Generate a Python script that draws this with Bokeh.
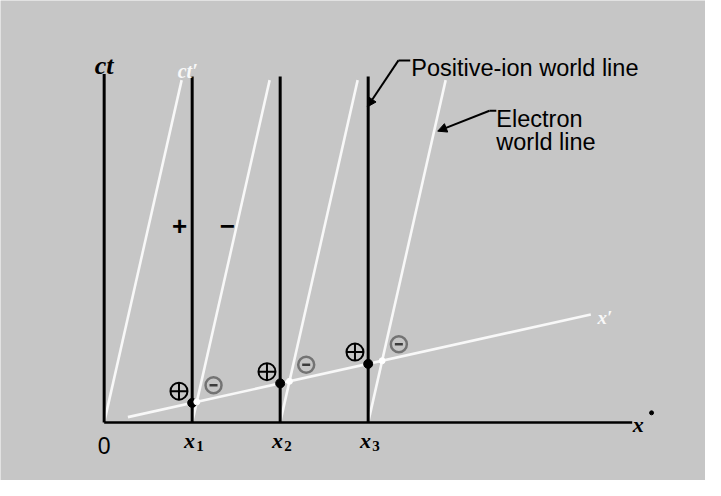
from bokeh.plotting import figure
from bokeh.models import Range1d, Arrow, NormalHead
from bokeh.core.properties import value
from bokeh.embed import file_html
from bokeh.resources import INLINE

# ---- data (units: ion spacing = 1, ct in same units) ----
ion_x = [1, 2, 3]                 # positive-ion world lines at x1, x2, x3
ion_top = 3.97                    # top of ion world lines (ct)
electron_x0 = [0, 1, 2, 3]        # electron world lines start (first one is ct' axis)
electron_top = 3.93               # top of electron world lines (ct)
beta = 0.224                      # slope of the moving frame
ct_axis_top = 4.0
x_axis_end = 6.0
xprime_start = 0.27
xprime_end = 5.53
ion_labels = ["1", "2", "3"]

BG = "#c6c6c6"
WHITE = "#f8f8f8"

W, H = 705, 480
X_RANGE = (-1.178, 6.833)
Y_RANGE = (-0.667, 4.844)

p = figure(width=W, height=H, output_backend="svg", toolbar_location=None,
           x_axis_type=None, y_axis_type=None, min_border=0,
           x_range=Range1d(*X_RANGE), y_range=Range1d(*Y_RANGE))
p.background_fill_color = BG
p.border_fill_color = BG
p.outline_line_color = None
p.grid.visible = False

# ---- white electron world lines (parallel to ct') ----
ex0 = list(electron_x0)
ex1 = [e + beta * electron_top for e in electron_x0]
p.segment(x0=ex0, y0=[0] * len(ex0), x1=ex1, y1=[electron_top] * len(ex0),
          line_color=WHITE, line_width=2.6)

# ---- x' axis ----
p.line(x=[xprime_start, xprime_end], y=[beta * xprime_start, beta * xprime_end],
       line_color=WHITE, line_width=2.6)

# ---- axes ----
p.line(x=[0, 0], y=[0, ct_axis_top], line_color="black", line_width=3)
p.line(x=[0, x_axis_end], y=[0, 0], line_color="black", line_width=2.5)

# ---- ion world lines ----
p.segment(x0=ion_x, y0=[0] * 3, x1=ion_x, y1=[ion_top] * 3,
          line_color="black", line_width=3)

# ions on x' (black dots)
ion_y_prime = [beta * x for x in ion_x]
p.scatter(x=ion_x, y=ion_y_prime, size=9, color="black")

# electrons on x' (bright spots)
el_ct = [beta * x / (1 - beta ** 2) for x in ion_x]
el_x = [x + beta * c for x, c in zip(ion_x, el_ct)]
p.scatter(x=el_x, y=el_ct, size=6, color="white")

# ⊕ and ⊖ symbols
p.scatter(x=[x - 0.15 for x in ion_x], y=[y + 0.135 for y in ion_y_prime],
          marker="circle_cross", size=17, line_color="black", fill_color=None, line_width=2)
p.scatter(x=[x + 0.19 for x in el_x], y=[y + 0.19 for y in el_ct],
          marker="circle", size=16, line_color="#737373", fill_color=None, line_width=2.5)
p.scatter(x=[x + 0.19 for x in el_x], y=[y + 0.19 for y in el_ct],
          marker="dash", size=8, line_color="#3c3c3c", line_width=2.5)

serif = value("Liberation Serif")
sans = value("Liberation Sans")

# axis labels
p.text(x=[0], y=[4.1], text=["ct"], text_font=serif, text_font_style="bold italic",
       text_font_size="26px", text_align="center", text_baseline="alphabetic", text_color="black")
p.text(x=[0.95], y=[4.04], text=["ct′"], text_font=serif, text_font_style="bold italic",
       text_font_size="20px", text_align="center", text_baseline="alphabetic", text_color=WHITE)
p.text(x=[0], y=[-0.267], text=["0"], text_font=sans,
       text_font_size="23px", text_align="center", text_baseline="alphabetic", text_color="black")
p.text(x=[6.07], y=[-0.02], text=["x"], text_font=serif, text_font_style="bold italic",
       text_font_size="22px", text_align="center", text_baseline="alphabetic", text_color="black")
p.scatter(x=[6.22], y=[0.11], size=4, color="black")
p.text(x=[5.69], y=[1.21], text=["x′"], text_font=serif, text_font_style="bold italic",
       text_font_size="19px", text_align="center", text_baseline="alphabetic", text_color=WHITE)

# x1, x2, x3 labels
p.text(x=[x - 0.03 for x in ion_x], y=[-0.21] * 3, text=["x"] * 3, text_font=serif,
       text_font_style="bold italic", text_font_size="22px", text_align="center",
       text_baseline="alphabetic", text_color="black")
p.text(x=[x + 0.09 for x in ion_x], y=[-0.27] * 3, text=ion_labels, text_font=serif,
       text_font_style="bold", text_font_size="15px", text_align="center",
       text_baseline="alphabetic", text_color="black")

# + and - charge signs
p.text(x=[0.856, 1.40], y=[2.25, 2.25], text=["+", "−"], text_font=sans,
       text_font_style="bold", text_font_size="26px", text_align="center",
       text_baseline="alphabetic", text_color="black")

# annotations
p.text(x=[3.489], y=[4.067], text=["Positive-ion world line"], text_font=sans,
       text_font_size="23.5px", text_align="left", text_baseline="alphabetic", text_color="black")
p.text(x=[4.456, 4.456], y=[3.489, 3.222], text=["Electron", "world line"], text_font=sans,
       text_font_size="23.5px", text_align="left", text_baseline="alphabetic", text_color="black")

p.line(x=[3.344, 3.478], y=[4.156, 4.156], line_color="black", line_width=2)
p.add_layout(Arrow(end=NormalHead(size=9, fill_color="black", line_color="black"),
                   x_start=3.344, y_start=4.156, x_end=2.99, y_end=3.622,
                   line_color="black", line_width=2))
p.line(x=[4.378, 4.456], y=[3.578, 3.578], line_color="black", line_width=2)
p.add_layout(Arrow(end=NormalHead(size=9, fill_color="black", line_color="black"),
                   x_start=4.378, y_start=3.578, x_end=3.79, y_end=3.344,
                   line_color="black", line_width=2))

open("out.html", "w").write(file_html(p, INLINE))
